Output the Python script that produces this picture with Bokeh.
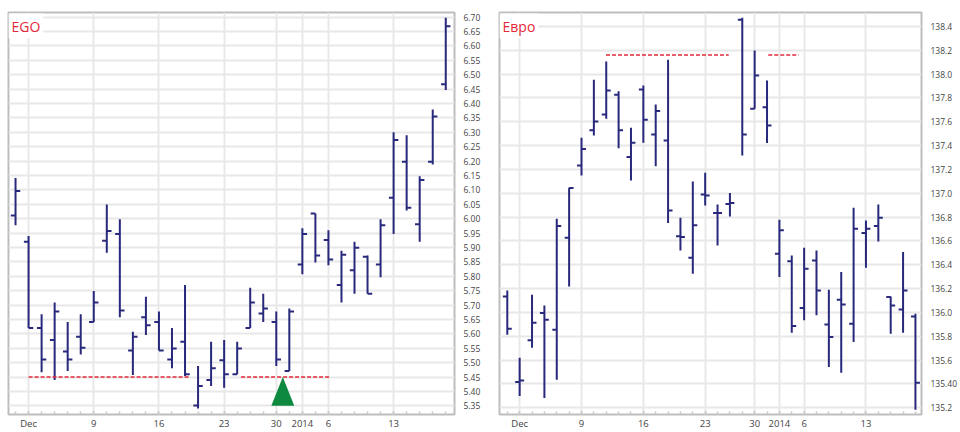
from bokeh.plotting import figure
from bokeh.layouts import row
from bokeh.models import FixedTicker, Label, Range1d
from bokeh.embed import file_html
from bokeh.resources import INLINE

# ---- trading days (x axis is a trading-day index) ----
trading_days = ["2013-11-29", "2013-12-02", "2013-12-03", "2013-12-04", "2013-12-05", "2013-12-06",
                "2013-12-09", "2013-12-10", "2013-12-11", "2013-12-12", "2013-12-13",
                "2013-12-16", "2013-12-17", "2013-12-18", "2013-12-19", "2013-12-20",
                "2013-12-23", "2013-12-24", "2013-12-26", "2013-12-27",
                "2013-12-30", "2013-12-31", "2014-01-02", "2014-01-03",
                "2014-01-06", "2014-01-07", "2014-01-08", "2014-01-09", "2014-01-10",
                "2014-01-13", "2014-01-14", "2014-01-15", "2014-01-16", "2014-01-17"]
x_tick_days = ["2013-12-02", "2013-12-09", "2013-12-16", "2013-12-23", "2013-12-30",
               "2014-01-02", "2014-01-06", "2014-01-13"]
x_tick_labels = ["Dec", "9", "16", "23", "30", "2014", "6", "13"]

# ---- EGO ----
ego_open = [6.011, 5.920, 5.620, 5.579, 5.539, 5.590, 5.641, 5.923, 5.947, 5.542, 5.658, 5.641,
            5.511, 5.573, 5.351, 5.440, 5.508, 5.460, 5.620, 5.671, 5.641, 5.471, 5.841, 6.018,
            5.926, 5.770, 5.821, 5.868, 5.841, 6.073, 6.198, 5.981, 6.198, 6.467]
ego_high = [6.141, 5.940, 5.668, 5.709, 5.641, 5.668, 5.749, 6.049, 5.998, 5.607, 5.729, 5.678,
            5.620, 5.770, 5.488, 5.573, 5.579, 5.573, 5.760, 5.739, 5.678, 5.688, 5.967, 6.018,
            5.960, 5.889, 5.920, 5.872, 5.998, 6.300, 6.290, 6.147, 6.379, 6.698]
ego_low = [5.977, 5.620, 5.467, 5.440, 5.471, 5.528, 5.641, 5.882, 5.658, 5.457, 5.596, 5.542,
           5.481, 5.454, 5.341, 5.419, 5.413, 5.460, 5.620, 5.641, 5.488, 5.471, 5.807, 5.848,
           5.838, 5.709, 5.739, 5.739, 5.797, 5.947, 6.028, 5.920, 6.188, 6.447]
ego_close = [6.096, 5.620, 5.511, 5.678, 5.511, 5.552, 5.709, 5.957, 5.681, 5.590, 5.630, 5.542,
             5.549, 5.460, 5.419, 5.481, 5.460, 5.549, 5.709, 5.688, 5.511, 5.678, 5.947, 5.872,
             5.858, 5.875, 5.899, 5.739, 5.977, 6.273, 6.038, 6.134, 6.355, 6.668]
ego_support_level = 5.45
ego_support_from = [1.0, 17.3]
ego_support_to = [13.3, 24.1]
ego_signal_day = 20.5
ego_signal_low = 5.35
ego_signal_high = 5.45
ego_y_ticks = [round(5.35 + 0.05 * i, 2) for i in range(28)]
ego_y_labels = ["%.2f" % t for t in ego_y_ticks]

# ---- Euro ----
eur_open = [136.135, 135.416, 135.766, 135.995, 135.855, 136.627, 137.234, 137.528, 137.662, 137.827,
            137.304, 137.871, 137.494, 137.444, 136.640, 136.459, 136.990, 136.834, 136.910, 138.456,
            137.709, 137.723, 136.493, 136.429, 136.037, 136.437, 135.900, 136.107, 135.906, 136.666,
            136.725, 136.129, 136.026, 135.967]
eur_high = [136.185, 135.620, 136.149, 136.059, 136.787, 137.047, 137.466, 137.953, 138.106, 137.857,
            137.550, 137.905, 137.746, 138.121, 136.795, 137.100, 137.172, 136.907, 137.002, 138.473,
            138.199, 137.947, 136.778, 136.479, 136.543, 136.521, 136.191, 136.339, 136.879, 136.772,
            136.907, 136.135, 136.507, 135.990]
eur_low = [135.813, 135.299, 135.705, 135.282, 135.436, 136.219, 137.150, 137.486, 137.626, 137.379,
           137.108, 137.424, 137.228, 136.750, 136.521, 136.325, 136.898, 136.563, 136.806, 137.318,
           137.709, 137.421, 136.297, 135.830, 135.934, 135.976, 135.542, 135.495, 135.752, 136.375,
           136.596, 135.822, 135.830, 135.184]
eur_close = [135.864, 135.430, 135.914, 135.939, 136.725, 137.044, 137.371, 137.603, 137.863, 137.528,
             137.424, 137.617, 137.690, 136.856, 136.633, 136.731, 136.982, 136.834, 136.918, 137.494,
             137.989, 137.569, 136.689, 135.886, 136.367, 136.185, 135.794, 136.068, 136.703, 136.703,
             136.795, 136.059, 136.185, 135.411]
eur_resist_level = 138.16
eur_resist_from = [7.98, 21.1]
eur_resist_to = [17.9, 23.56]
eur_y_ticks = [round(135.2 + 0.2 * i, 1) for i in range(17)]
eur_y_labels = ["%.1f" % t for t in eur_y_ticks]
eur_y_labels[1] = "135.40"

BAR = "#28297c"
RED = "#e3283a"
GRID = "#e8e8e8"
FONT = "Open Sans"
TICK = 0.36


def make_panel(title, o, h, l, c, x_range, y_range, y_ticks, y_labels, width, border_left, border_right,
               border_top, border_bottom):
    idx = list(range(len(trading_days)))
    p = figure(width=width, height=432, output_backend="svg", toolbar_location=None,
               x_range=Range1d(*x_range), y_range=Range1d(*y_range), y_axis_location="right",
               min_border_left=border_left, min_border_right=border_right,
               min_border_top=border_top, min_border_bottom=border_bottom)
    p.background_fill_color = "white"
    p.border_fill_color = "white"
    p.outline_line_color = "#bdbdbd"
    p.outline_line_width = 2

    major = [trading_days.index(d) for d in x_tick_days]
    p.xaxis.ticker = FixedTicker(ticks=major, minor_ticks=idx)
    p.xaxis.major_label_overrides = {m: lab for m, lab in zip(major, x_tick_labels)}
    p.xgrid.ticker = FixedTicker(ticks=major)
    p.yaxis.ticker = FixedTicker(ticks=y_ticks)
    p.ygrid.ticker = FixedTicker(ticks=y_ticks)
    p.yaxis.major_label_overrides = {t: lab for t, lab in zip(y_ticks, y_labels)}

    for ax in (p.xaxis[0], p.yaxis[0]):
        ax.axis_line_color = None
        ax.major_label_text_font = FONT
        ax.major_label_text_color = "#444444"
        ax.major_label_standoff = 2
    p.xaxis.major_label_text_font_size = "9.5px"
    p.yaxis.major_label_text_font_size = "8.5px"
    p.yaxis.major_label_standoff = 3
    p.yaxis.major_tick_line_color = None
    p.yaxis.minor_tick_line_color = None
    p.xaxis.major_tick_in = 3
    p.xaxis.major_tick_out = 0
    p.xaxis.minor_tick_in = 3
    p.xaxis.minor_tick_out = 0
    p.xaxis.major_tick_line_color = "#c8c8c8"
    p.xaxis.minor_tick_line_color = "#c8c8c8"
    p.xaxis.major_tick_line_width = 1.5
    p.xaxis.minor_tick_line_width = 1.5

    p.xgrid.grid_line_color = GRID
    p.ygrid.grid_line_color = GRID
    p.xgrid.grid_line_width = 2
    p.ygrid.grid_line_width = 2

    p.segment(x0=idx, x1=idx, y0=l, y1=h, line_color=BAR, line_width=2)
    p.segment(x0=[i - TICK for i in idx], x1=idx, y0=o, y1=o, line_color=BAR, line_width=2)
    p.segment(x0=idx, x1=[i + TICK for i in idx], y0=c, y1=c, line_color=BAR, line_width=2)

    p.add_layout(Label(x=x_range[0], y=y_range[1], text=title, x_offset=0, y_offset=-1,
                       text_align="left", text_baseline="top", text_font=FONT, text_font_size="14px",
                       text_color=RED, background_fill_color="white", padding=3))
    return p


left = make_panel("EGO", ego_open, ego_high, ego_low, ego_close, (-0.54, 33.67), (5.320, 6.716),
                  ego_y_ticks, ego_y_labels, 488, 8, 34, 11, 11)
left.segment(x0=ego_support_from, x1=ego_support_to, y0=[ego_support_level] * 2,
             y1=[ego_support_level] * 2, line_color=RED, line_width=1.5, line_dash="4 2")
hw = 0.88
left.patch(x=[ego_signal_day - hw, ego_signal_day + hw, ego_signal_day],
           y=[ego_signal_low, ego_signal_low, ego_signal_high], fill_color="#0d8a3f", line_color=None)

right = make_panel("Евро", eur_open, eur_high, eur_low, eur_close, (-0.63, 33.49), (135.144, 138.517),
                   eur_y_ticks, eur_y_labels, 472, 11, 28, 12, 18)
right.segment(x0=eur_resist_from, x1=eur_resist_to, y0=[eur_resist_level] * 2,
              y1=[eur_resist_level] * 2, line_color=RED, line_width=1.5, line_dash="4 2")

layout = row(left, right)
open("out.html", "w").write(file_html(layout, INLINE))
